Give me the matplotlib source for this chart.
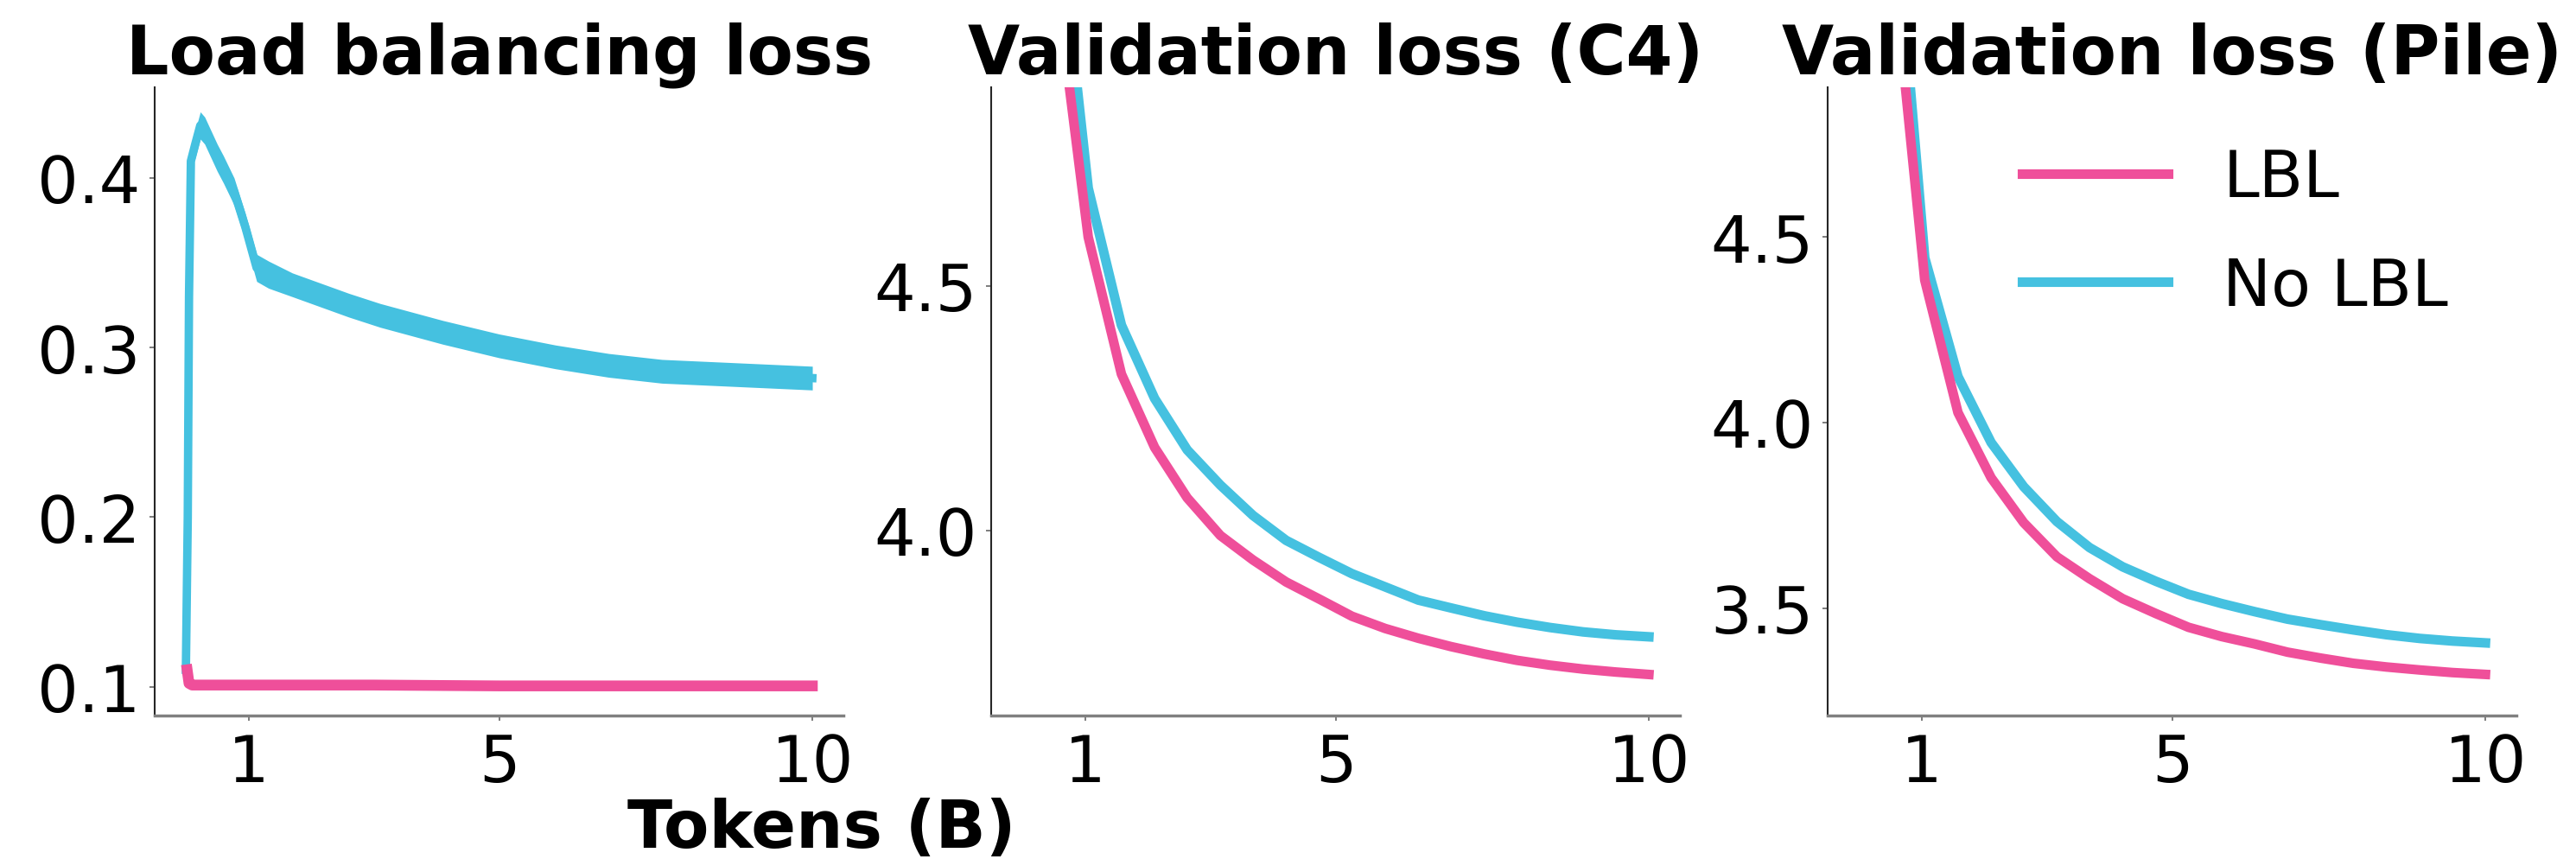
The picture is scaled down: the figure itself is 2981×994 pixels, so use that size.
import matplotlib
matplotlib.use("Agg")
import matplotlib.pyplot as plt

# colours of the two runs
pink = "#EF4F9A"
blue = "#45C1E0"

# load balancing loss (tokens in B)
lb_x = [0.0, 0.03, 0.05, 0.08, 0.15, 0.23, 0.3, 0.4, 0.5, 0.6, 0.77, 0.95, 1.13,
        1.32, 1.7, 2.15, 2.6, 3.1, 3.6, 4.1, 5.0, 5.9, 6.75, 7.6, 8.5, 9.4, 10.0]
lb_nolbl = [0.11, 0.2, 0.33, 0.41, 0.42, 0.431, 0.428, 0.42, 0.412, 0.405, 0.392,
            0.371, 0.347, 0.343, 0.337, 0.331, 0.325, 0.319, 0.314, 0.309, 0.301,
            0.2945, 0.2895, 0.286, 0.2845, 0.283, 0.282]
lb_nolbl_spread = [0.0, 0.0, 0.002, 0.006, 0.008, 0.008, 0.008, 0.008, 0.008, 0.008,
                   0.008, 0.008, 0.008, 0.008, 0.007, 0.007, 0.007, 0.007, 0.007,
                   0.007, 0.007, 0.007, 0.007, 0.007, 0.007, 0.007, 0.007]
lb_lbl_x = [0.02, 0.05, 0.1, 1.0, 3.0, 5.0, 7.0, 10.0]
lb_lbl = [0.11, 0.102, 0.101, 0.101, 0.101, 0.1005, 0.1005, 0.1005]

# validation losses at the eval points
val_x = [0.53, 1.05, 1.58, 2.11, 2.63, 3.16, 3.68, 4.21, 4.74, 5.26, 5.79, 6.32,
         6.84, 7.37, 7.89, 8.42, 8.95, 9.47, 10.0]
c4_lbl = [5.13, 4.60, 4.32, 4.17, 4.067, 3.99, 3.94, 3.895, 3.86, 3.825, 3.80, 3.78,
          3.763, 3.748, 3.735, 3.725, 3.717, 3.711, 3.706]
c4_nolbl = [5.31, 4.70, 4.42, 4.27, 4.165, 4.093, 4.031, 3.98, 3.945, 3.912, 3.885,
            3.858, 3.842, 3.826, 3.813, 3.802, 3.793, 3.787, 3.783]
pile_lbl = [5.26, 4.384, 4.027, 3.851, 3.73, 3.638, 3.579, 3.525, 3.485, 3.448, 3.423,
            3.403, 3.381, 3.365, 3.351, 3.341, 3.333, 3.326, 3.321]
pile_nolbl = [5.48, 4.444, 4.124, 3.946, 3.827, 3.733, 3.663, 3.611, 3.572, 3.537,
              3.512, 3.490, 3.470, 3.455, 3.441, 3.428, 3.418, 3.411, 3.406]

titles = ["Load balancing loss", "Validation loss (C4)", "Validation loss (Pile)"]
x_ticks = [1, 5, 10]

fig, axes = plt.subplots(1, 3, figsize=(29.81, 9.95), dpi=100)
fig.subplots_adjust(left=0.060, right=0.977, top=0.8975, bottom=0.1668, wspace=0.214)

ax = axes[0]
lo = [v - s for v, s in zip(lb_nolbl, lb_nolbl_spread)]
hi = [v + s for v, s in zip(lb_nolbl, lb_nolbl_spread)]
ax.fill_between(lb_x, lo, hi, color=blue, lw=0)
ax.plot(lb_x, lb_nolbl, color=blue, lw=7)
ax.plot(lb_lbl_x, lb_lbl, color=pink, lw=9)
ax.set_xlim(-0.5, 10.5)
ax.set_ylim(0.083, 0.4535)
ax.set_yticks([0.1, 0.2, 0.3, 0.4])

ax = axes[1]
ax.plot(val_x, c4_nolbl, color=blue, lw=8)
ax.plot(val_x, c4_lbl, color=pink, lw=8)
ax.set_xlim(-0.5, 10.5)
ax.set_ylim(3.622, 4.906)
ax.set_yticks([4.0, 4.5])

ax = axes[2]
l2, = ax.plot(val_x, pile_nolbl, color=blue, lw=8)
l1, = ax.plot(val_x, pile_lbl, color=pink, lw=8)
ax.set_xlim(-0.5, 10.5)
ax.set_ylim(3.21, 4.904)
ax.set_yticks([3.5, 4.0, 4.5])
ax.legend([l1, l2], ["LBL", "No LBL"], loc="upper left", bbox_to_anchor=(0.282, 0.905),
          frameon=False, fontsize=54, handlelength=2.25, handletextpad=0.85,
          labelspacing=0.7, borderpad=0, borderaxespad=0)

for ax, t in zip(axes, titles):
    ax.set_title(t, fontsize=56, fontweight="bold", pad=11)
    ax.set_xticks(x_ticks)
    ax.set_xticklabels([str(v) for v in x_ticks])
    ax.spines["top"].set_visible(False)
    ax.spines["right"].set_visible(False)
    ax.spines["left"].set_color("0.15")
    ax.spines["left"].set_linewidth(1.5)
    ax.spines["bottom"].set_color("0.5")
    ax.spines["bottom"].set_linewidth(2.5)
    ax.tick_params(axis="both", labelsize=54, length=4, width=1.2, color="0.4")
    ax.tick_params(axis="x", pad=10)
    ax.tick_params(axis="y", pad=8)

fig.text(0.319, 0.035, "Tokens (B)", fontsize=55, fontweight="bold", ha="center", va="center")

fig.savefig("out.png", dpi=100)
